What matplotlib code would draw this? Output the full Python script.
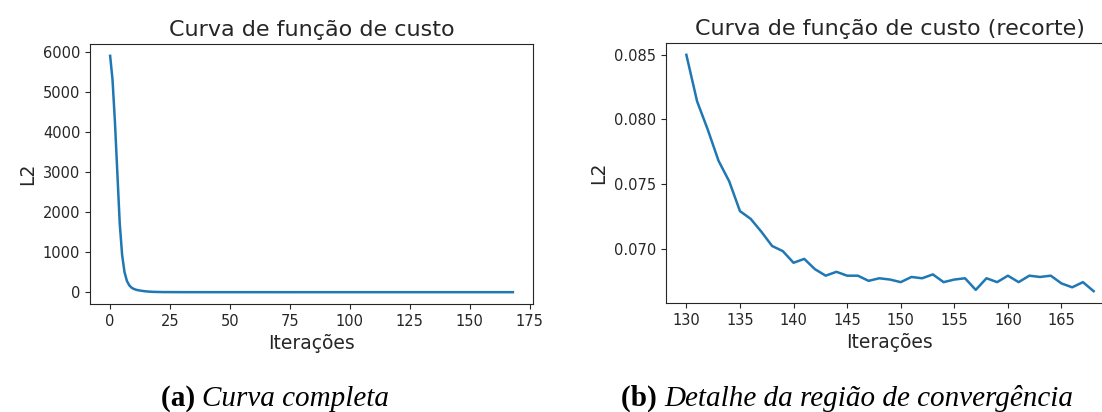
import matplotlib
matplotlib.use("Agg")
import matplotlib.pyplot as plt
import numpy as np

# Cost values per iteration (0..168)
cost_head = [5900, 5300, 4250, 2980, 1720, 930, 500, 280, 170, 110,
             78, 58, 45, 35, 27, 20, 15, 11, 8, 6]
cost_mid = [4.3, 3.4, 2.7, 2.2, 1.8, 1.5, 1.25, 1.05, 0.9, 0.78,
            0.68, 0.60, 0.53, 0.47, 0.42, 0.38, 0.345, 0.315, 0.29, 0.268,
            0.249, 0.232, 0.217, 0.204, 0.192, 0.182, 0.173, 0.165, 0.158, 0.152,
            0.146, 0.141, 0.136, 0.132, 0.128, 0.124, 0.121, 0.118, 0.115, 0.113,
            0.111, 0.109, 0.107, 0.105, 0.104, 0.102, 0.101, 0.100, 0.099, 0.098,
            0.097, 0.096, 0.0955, 0.095, 0.0945, 0.094, 0.0935, 0.093, 0.0925, 0.092,
            0.0916, 0.0912, 0.0908, 0.0905, 0.0902, 0.0899, 0.0896, 0.0893, 0.0891, 0.0889,
            0.0887, 0.0885, 0.0883, 0.0881, 0.0879, 0.0877, 0.0876, 0.0874, 0.0873, 0.0871,
            0.0870, 0.0869, 0.0867, 0.0866, 0.0865, 0.0864, 0.0863, 0.0862, 0.0861, 0.0860,
            0.0859, 0.0858, 0.0857, 0.0857, 0.0856, 0.0855, 0.0855, 0.0854, 0.0854, 0.0853,
            0.0853, 0.0852, 0.0852, 0.0852, 0.0851, 0.0851, 0.0851, 0.0850, 0.0850, 0.0850]
cost_tail = [0.0850, 0.0814, 0.0792, 0.0768, 0.0752, 0.0729, 0.0723, 0.0713, 0.0702, 0.0698,
             0.0689, 0.0692, 0.0684, 0.0679, 0.0682, 0.0679, 0.0679, 0.0675, 0.0677, 0.0676,
             0.0674, 0.0678, 0.0677, 0.0680, 0.0674, 0.0676, 0.0677, 0.0668, 0.0677, 0.0674,
             0.0679, 0.0674, 0.0679, 0.0678, 0.0679, 0.0673, 0.0670, 0.0674, 0.0667]
cost = np.array(cost_head + cost_mid + cost_tail)
iters = np.arange(len(cost))
zoom_start = 130

title_full = "Curva de função de custo"
title_zoom = "Curva de função de custo (recorte)"
xlabel = "Iterações"
ylabel = "L2"

W, H = 1102, 412
fig = plt.figure(figsize=(W / 100, H / 100), dpi=100)

TXT = "#262626"
plt.rcParams.update({
    "axes.edgecolor": TXT,
    "xtick.color": TXT,
    "ytick.color": TXT,
    "text.color": TXT,
    "axes.labelcolor": TXT,
})

def box(l, r, t, b):
    return [l / W, 1 - b / H, (r - l) / W, (b - t) / H]

LINE = "#1f77b4"
TITLE_FS = 16
LABEL_FS = 13.5
TICK_FS = 10.5

ax1 = fig.add_axes(box(90, 533, 44, 304))
ax1.plot(iters, cost, color=LINE, lw=1.8)
ax1.set_title(title_full, fontsize=TITLE_FS, color=TXT)
ax1.set_xlabel(xlabel, fontsize=LABEL_FS)
ax1.set_ylabel(ylabel, fontsize=LABEL_FS)
ax1.set_xticks(np.arange(0, 176, 25))
ax1.set_yticks(np.arange(0, 6001, 1000))
ax1.tick_params(labelsize=TICK_FS, colors=TXT)

ax2 = fig.add_axes(box(666, 1114, 43, 303))
ax2.plot(iters[zoom_start:], cost[zoom_start:], color=LINE, lw=1.8)
ax2.set_title(title_zoom, fontsize=TITLE_FS, color=TXT)
ax2.set_xlabel(xlabel, fontsize=LABEL_FS)
ax2.set_ylabel(ylabel, fontsize=LABEL_FS)
ax2.set_xticks(np.arange(130, 166, 5))
ax2.set_yticks([0.070, 0.075, 0.080, 0.085])
ax2.tick_params(labelsize=TICK_FS, colors=TXT)

cap_font = "Liberation Serif"
CAP_SIZE = 21
CAP_BASE = 406

def caption(xc, label, text):
    y = 1 - CAP_BASE / H
    t1 = fig.text(0, y, label + " ", fontsize=CAP_SIZE, family=cap_font,
                  weight="bold", va="baseline", ha="left", color="black")
    t2 = fig.text(0, y, text, fontsize=CAP_SIZE, family=cap_font,
                  style="italic", va="baseline", ha="left", color="black")
    fig.canvas.draw()
    r = fig.canvas.get_renderer()
    w1 = t1.get_window_extent(r).width
    w2 = t2.get_window_extent(r).width
    x0 = xc - (w1 + w2) / 2
    t1.set_x(x0 / W)
    t2.set_x((x0 + w1) / W)

caption(275, "(a)", "Curva completa")
caption(847, "(b)", "Detalhe da região de convergência")

fig.savefig("out.png", dpi=100)
